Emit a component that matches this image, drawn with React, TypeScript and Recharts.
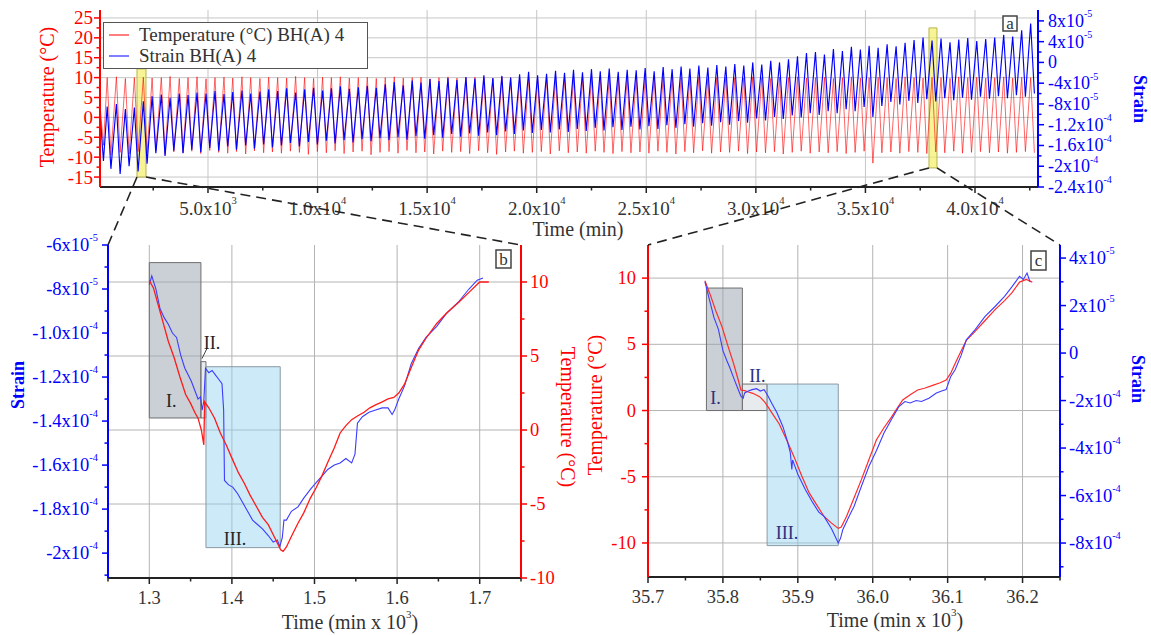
import {
  LineChart, Line, XAxis, YAxis, CartesianGrid, ReferenceArea, Legend
} from 'recharts';

const SERIF = '"Liberation Serif", "Times New Roman", serif';
const RED = '#ff0000';
const BLUE = '#0000ff';
const INK = '#333333';

// ---------- panel a: whole record (strain in units of 1e-5) ----------
// [peak time, trough time] per daily cycle, minutes
const cycleTimes = [
  [60, 230], [400, 570], [820, 990], [1230, 1400], [1640, 1810],
  [2050, 2220], [2450, 2620], [2870, 3040], [3270, 3440], [3690, 3860],
  [4090, 4260], [4500, 4670], [4910, 5080], [5320, 5490], [5730, 5900],
  [6130, 6300], [6550, 6720], [6950, 7120], [7370, 7540], [7770, 7940],
  [8180, 8350], [8590, 8760], [9000, 9170], [9410, 9580], [9820, 9990],
  [10230, 10400], [10630, 10800], [11040, 11210], [11450, 11620], [11860, 12030],
  [12270, 12440], [12680, 12850], [13090, 13260], [13500, 13670], [13910, 14080],
  [14320, 14490], [14720, 14890], [15130, 15300], [15540, 15710], [15950, 16120],
  [16360, 16530], [16770, 16940], [17180, 17350], [17590, 17760], [18000, 18170],
  [18410, 18580], [18810, 18980], [19220, 19390], [19630, 19800], [20040, 20210],
  [20450, 20620], [20860, 21030], [21270, 21440], [21680, 21850], [22090, 22260],
  [22500, 22670], [22900, 23070], [23310, 23480], [23720, 23890], [24130, 24300],
  [24540, 24710], [24950, 25120], [25360, 25530], [25770, 25940], [26180, 26350],
  [26590, 26760], [26990, 27160], [27400, 27570], [27810, 27980], [28220, 28390],
  [28630, 28800], [29040, 29210], [29450, 29620], [29860, 30030], [30270, 30440],
  [30680, 30850], [31080, 31250], [31490, 31660], [31900, 32070], [32310, 32480],
  [32720, 32890], [33130, 33300], [33540, 33710], [33950, 34120], [34360, 34530],
  [34770, 34940], [35170, 35340], [35580, 35750], [35990, 36160], [36400, 36570],
  [36810, 36980], [37220, 37390], [37630, 37800], [38040, 38210], [38450, 38620],
  [38860, 39030], [39260, 39430], [39670, 39840], [40080, 40250], [40490, 40660],
  [40900, 41070], [41310, 41480], [41720, 41890], [42130, 42300], [42540, 42710],
];

// [peak, trough] temperature, °C
const tempCycles = [
  [4, -7], [10, -9.5], [10.2, -8.8], [9.8, -9.2], [10, -8.6],
  [10.1, -9], [9.9, -8.4], [10, -9.3], [10.3, -8.7], [9.8, -8.9],
  [10, -8.5], [10.2, -9.1], [9.7, -8.3], [10, -8.8], [10.1, -9],
  [9.9, -8.6], [10.2, -9.2], [10, -8.4], [9.8, -8.9], [10.1, -8.7],
  [10, -9], [9.9, -8.5], [10.3, -8.8], [10, -9.3], [9.8, -8.6],
  [10.1, -8.9], [10, -8.4], [10.2, -9.1], [9.9, -8.7], [10, -8.5],
  [10.1, -9.4], [9.8, -8.8], [10, -8.6], [10.2, -9], [9.9, -8.3],
  [10, -8.9], [10.1, -8.7], [9.7, -9.2], [10, -8.5], [10.2, -8.8],
  [9.9, -8.6], [10, -9.1], [10.1, -8.4], [10, -8.9], [9.8, -9.3],
  [10.2, -8.7], [10, -8.5], [9.9, -9], [10.1, -8.8], [10, -8.6],
  [10.2, -9.2], [9.9, -8.4], [10, -8.9], [10.1, -8.7], [9.8, -9],
  [10, -8.5], [10.2, -8.8], [10, -9.1], [9.9, -8.6], [10.1, -8.9],
  [10, -8.7], [9.8, -9], [10.2, -8.5], [10, -8.8], [10.1, -9.2],
  [9.9, -8.6], [10, -8.9], [10.2, -8.4], [9.8, -9], [10, -8.7],
  [10.1, -8.8], [10, -8.5], [9.9, -9.1], [10.2, -8.7], [10, -8.9],
  [9.8, -8.6], [10.1, -9.2], [10, -8.8], [10.2, -8.5], [9.9, -9],
  [10, -8.7], [10.1, -8.9], [9.8, -8.6], [10, -9.1], [10.2, -8.8],
  [9.9, -8.5], [10, -11.5], [10.1, -8.9], [10, -8.7], [9.8, -9],
  [10.2, -8.6], [10, -8.8], [9.9, -9.1], [10.1, -8.7], [10, -8.9],
  [9.8, -8.5], [10.2, -9], [10, -8.8], [10.1, -8.6], [9.9, -8.9],
  [10, -8.7], [10.2, -9], [9.9, -8.8], [10.1, -8.6], [10, -8.9],
];

// [peak, trough] strain, x1e-5
const strainCycles = [
  [-9, -19], [-8.5, -20.5], [-8, -21.5], [-9, -20], [-8.7, -21],
  [-7.5, -19.5], [-6.5, -17.5], [-6.2, -18], [-6.8, -17], [-6, -17.5],
  [-6.3, -16.8], [-5.8, -17.3], [-6, -16.5], [-5.5, -17], [-6.1, -16.2],
  [-5.7, -16.8], [-5.4, -16], [-6, -16.6], [-5.6, -15.8], [-5.2, -16.4],
  [-5.5, -16], [-5, -15.5], [-5.8, -16.2], [-5.2, -15.3], [-4.9, -15.8],
  [-5.4, -15.1], [-5, -15.6], [-4.6, -15], [-5.1, -15.4], [-4.8, -14.8],
  [-4.5, -15.2], [-4.9, -14.6], [-4.2, -15], [-3.8, -14.4], [-4.4, -14.9],
  [-3.5, -14.2], [-3.9, -14.7], [-3.2, -14], [-3.6, -14.5], [-3, -13.8],
  [-3.4, -14.3], [-2.8, -13.7], [-3.1, -14.1], [-2.5, -13.5], [-3, -14],
  [-2.6, -13.3], [-2.9, -13.8], [-2.3, -13.1], [-1.8, -13.6], [-2.5, -13],
  [-2.2, -13.5], [-1.6, -12.9], [-2, -13.4], [-1.4, -12.8], [-1.9, -13.2],
  [-1.3, -12.6], [-1.7, -13.1], [-1.2, -12.5], [-1.8, -13], [-1.4, -12.4],
  [-1.5, -12.9], [-1.1, -12.3], [-1.7, -12.8], [-0.9, -12.1], [-1.3, -12.6],
  [-0.8, -11.9], [-1.2, -12.4], [-0.6, -11.7], [-1, -12.2], [-0.5, -11.5],
  [-0.8, -12], [-0.3, -11.3], [-0.6, -11.6], [0, -10.8], [-0.4, -11.2],
  [0.3, -10.5], [0, -10.9], [0.6, -10.2], [1.2, -10.6], [1.8, -9.8],
  [2, -10.1], [1.5, -9.4], [2.6, -9.8], [2.2, -9], [3, -9.4],
  [2.5, -8.6], [3.2, -10.5], [2.8, -8.4], [3.5, -7.6], [3.1, -8.1],
  [3.8, -7.4], [4.3, -7.8], [4.8, -7.1], [4.2, -7.5], [4.6, -6.9],
  [3.9, -7.3], [4.4, -6.8], [4.7, -7.2], [4.1, -6.6], [4.5, -7],
  [4.8, -6.5], [5.3, -6.9], [5, -6.3], [6.2, -6.6], [7.5, -6],
];

// ---------- panel b: one cycle near 1.3-1.7 x10^3 min ----------
const bTemperature = [
  [1.300, 10.1], [1.305, 9.6], [1.312, 8.2], [1.318, 7.0], [1.323, 6.0],
  [1.330, 4.9], [1.337, 3.6], [1.344, 2.4], [1.350, 1.8], [1.355, 1.2],
  [1.359, 0.8], [1.363, 0.0], [1.366, -1.0], [1.367, 1.9], [1.372, 1.5],
  [1.379, 0.8], [1.386, -0.2], [1.393, -1.0], [1.400, -1.9], [1.408, -2.9],
  [1.415, -3.6], [1.422, -4.4], [1.430, -5.2], [1.437, -5.9], [1.444, -6.4],
  [1.452, -7.3], [1.459, -8.1], [1.462, -8.2], [1.466, -7.9], [1.472, -7.2],
  [1.480, -6.3], [1.487, -5.6], [1.495, -4.6], [1.502, -3.9], [1.509, -3.1],
  [1.516, -2.2], [1.524, -1.2], [1.531, -0.2], [1.538, 0.3], [1.545, 0.7],
  [1.552, 0.95], [1.560, 1.2], [1.567, 1.5], [1.574, 1.7], [1.582, 1.9],
  [1.589, 2.1], [1.596, 2.2], [1.602, 2.5], [1.609, 3.1], [1.617, 4.2],
  [1.626, 5.4], [1.635, 6.2], [1.648, 7.2], [1.660, 7.9], [1.674, 8.6],
  [1.687, 9.3], [1.700, 10.0], [1.711, 10.0],
];
const bStrain = [
  [1.300, -7.8], [1.303, -7.4], [1.308, -8.0], [1.313, -8.9], [1.318, -9.3],
  [1.323, -9.6], [1.328, -10.0], [1.333, -10.2], [1.338, -11.0], [1.343, -11.6],
  [1.347, -11.9], [1.351, -12.2], [1.355, -12.6], [1.359, -13.0], [1.362, -12.9],
  [1.364, -13.5], [1.366, -13.1], [1.368, -11.6], [1.372, -11.8], [1.376, -11.7],
  [1.380, -11.9], [1.384, -12.1], [1.388, -12.3], [1.390, -13.5], [1.391, -16.7],
  [1.396, -16.9], [1.401, -17.0], [1.407, -17.3], [1.413, -17.7], [1.419, -18.1],
  [1.425, -18.5], [1.431, -18.7], [1.437, -18.9], [1.444, -19.2], [1.450, -19.5],
  [1.455, -19.4], [1.458, -19.7], [1.461, -19.3], [1.463, -18.5], [1.466, -18.5],
  [1.472, -18.1], [1.480, -17.9], [1.487, -17.5], [1.495, -17.1], [1.502, -16.8],
  [1.509, -16.5], [1.516, -16.2], [1.524, -16.0], [1.531, -15.9], [1.538, -15.7],
  [1.545, -15.9], [1.549, -15.5], [1.552, -14.1], [1.558, -13.8], [1.566, -13.6],
  [1.574, -13.5], [1.582, -13.4], [1.589, -13.4], [1.594, -13.7], [1.597, -13.5],
  [1.602, -13.0], [1.609, -12.4], [1.617, -11.4], [1.626, -10.7], [1.635, -10.2],
  [1.648, -9.7], [1.660, -9.1], [1.674, -8.6], [1.687, -8.0], [1.697, -7.6],
  [1.704, -7.5],
];

// ---------- panel c: one cycle near 35.8-36.2 x10^3 min ----------
const cTemperature = [
  [35.776, 9.8], [35.780, 9.2], [35.784, 8.6], [35.790, 7.6], [35.799, 6.3],
  [35.806, 5.0], [35.814, 3.6], [35.820, 2.4], [35.824, 1.55], [35.829, 1.5],
  [35.834, 1.4], [35.840, 1.3], [35.849, 1.05], [35.855, 0.7], [35.860, 0.3],
  [35.868, -0.4], [35.875, -1.0], [35.885, -2.2], [35.895, -3.5], [35.905, -4.9],
  [35.915, -6.2], [35.925, -7.1], [35.935, -8.0], [35.945, -8.5], [35.954, -8.9],
  [35.958, -8.8], [35.965, -8.0], [35.975, -6.6], [35.985, -5.2], [35.995, -3.7],
  [36.005, -2.2], [36.015, -1.3], [36.025, -0.5], [36.033, 0.2], [36.040, 0.8],
  [36.050, 1.2], [36.060, 1.55], [36.070, 1.7], [36.080, 1.9], [36.090, 2.1],
  [36.098, 2.3], [36.104, 2.8], [36.110, 3.55], [36.118, 4.5], [36.125, 5.3],
  [36.137, 6.0], [36.150, 6.8], [36.163, 7.6], [36.176, 8.3], [36.186, 8.9],
  [36.196, 9.7], [36.205, 9.9], [36.213, 9.7],
];
const cStrain = [
  [35.776, 3.0], [35.782, 2.25], [35.788, 1.5], [35.794, 1.0], [35.800, 0.1],
  [35.805, -0.3], [35.809, -0.6], [35.815, -1.1], [35.820, -1.5], [35.824, -1.82],
  [35.827, -1.9], [35.829, -1.68], [35.834, -1.6], [35.839, -1.54], [35.845, -1.5],
  [35.850, -1.6], [35.855, -1.54], [35.860, -1.8], [35.865, -2.1], [35.872, -2.5],
  [35.880, -3.09], [35.886, -3.7], [35.890, -4.2], [35.892, -4.9], [35.893, -4.5],
  [35.900, -5.1], [35.910, -5.75], [35.920, -6.3], [35.928, -6.7], [35.935, -6.88],
  [35.945, -7.4], [35.954, -8.0], [35.957, -7.8], [35.960, -7.44], [35.968, -6.9],
  [35.975, -6.46], [35.985, -5.6], [35.995, -4.77], [36.005, -4.1], [36.015, -3.37],
  [36.025, -2.8], [36.035, -2.25], [36.043, -2.04], [36.050, -2.1], [36.058, -2.0],
  [36.065, -2.04], [36.075, -1.9], [36.085, -1.68], [36.092, -1.6], [36.098, -1.54],
  [36.104, -1.0], [36.110, -0.7], [36.118, -0.1], [36.125, 0.56], [36.137, 1.0],
  [36.150, 1.54], [36.163, 1.95], [36.176, 2.39], [36.186, 2.8], [36.196, 3.23],
  [36.201, 3.1], [36.206, 3.37], [36.210, 3.0],
];

// ---------- ticks ----------
const timeTicksA = [5000, 10000, 15000, 20000, 25000, 30000, 35000, 40000];
const timeLabelsA = [['5.0x10', '3'], ['1.0x10', '4'], ['1.5x10', '4'], ['2.0x10', '4'], ['2.5x10', '4'], ['3.0x10', '4'], ['3.5x10', '4'], ['4.0x10', '4']];
const timeMinorA = [2500, 7500, 12500, 17500, 22500, 27500, 32500, 37500, 42500];
const tempTicksA = [-15, -10, -5, 0, 5, 10, 15, 20, 25];
const tempMinorA = [-12.5, -7.5, -2.5, 2.5, 7.5, 12.5, 17.5, 22.5];
const strainTicksA = [-24, -20, -16, -12, -8, -4, 0, 4, 8];
const strainLabelsA = [['-2.4x10', '-4'], ['-2x10', '-4'], ['-1.6x10', '-4'], ['-1.2x10', '-4'], ['-8x10', '-5'], ['-4x10', '-5'], ['0', ''], ['4x10', '-5'], ['8x10', '-5']];
const strainMinorA = [-22, -18, -14, -10, -6, -2, 2, 6];

const timeTicksB = [1.3, 1.4, 1.5, 1.6, 1.7];
const timeLabelsB = [['1.3'], ['1.4'], ['1.5'], ['1.6'], ['1.7']];
const timeMinorB = [1.25, 1.35, 1.45, 1.55, 1.65, 1.75];
const strainTicksB = [-20, -18, -16, -14, -12, -10, -8, -6];
const strainLabelsB = [['-2x10', '-4'], ['-1.8x10', '-4'], ['-1.6x10', '-4'], ['-1.4x10', '-4'], ['-1.2x10', '-4'], ['-1.0x10', '-4'], ['-8x10', '-5'], ['-6x10', '-5']];
const strainMinorB = [-21, -19, -17, -15, -13, -11, -9, -7];
const tempTicksB = [-10, -5, 0, 5, 10];
const tempMinorB = [-7.5, -2.5, 2.5, 7.5];

const timeTicksC = [35.7, 35.8, 35.9, 36.0, 36.1, 36.2];
const timeLabelsC = [['35.7'], ['35.8'], ['35.9'], ['36.0'], ['36.1'], ['36.2']];
const timeMinorC = [35.75, 35.85, 35.95, 36.05, 36.15, 36.25];
const tempTicksC = [-10, -5, 0, 5, 10];
const tempMinorC = [-7.5, -2.5, 2.5, 7.5];
const strainTicksC = [-8, -6, -4, -2, 0, 2, 4];
const strainLabelsC = [['-8x10', '-4'], ['-6x10', '-4'], ['-4x10', '-4'], ['-2x10', '-4'], ['0', ''], ['2x10', '-5'], ['4x10', '-5']];
const strainMinorC = [-9, -7, -5, -3, -1, 1, 3];

// ---------- layout ----------
const A = { left: 100, right: 1038, top: 10, bottom: 187, time: [72, 42875], temp: [-17.5, 27], strain: [-24, 10.1] };
const B = { left: 108, right: 521, top: 245, bottom: 578, time: [1.25, 1.75], strain: [-21.13, -6], temp: [-10, 12.5] };
const C = { left: 648, right: 1060, top: 245, bottom: 577, time: [35.7, 36.25], temp: [-12.57, 12.5], strain: [-9.43, 4.55] };
const yellowA = { t: [1760, 2171], temp: [-15, 12.2] };
const yellowB = { t: [37900, 38265], temp: [-12.7, 22.5] };
const legendOrder = ['temp', 'strain'];

const overviewRows = cycleTimes.flatMap(([tp, tt], i) => [
  { t: tp, temp: tempCycles[i][0], strain: strainCycles[i][0] },
  { t: tt, temp: tempCycles[i][1], strain: strainCycles[i][1] },
]);
const toRows = (pairs: number[][]) => pairs.map(([t, v]) => ({ t, v }));

// ---------- tick renderers ----------
const findParts = (major: number[], labels: string[][] | null, v: number) => {
  const i = major.findIndex((m) => Math.abs(m - v) < 1e-6);
  if (i < 0) return null;
  return labels ? labels[i] : [String(major[i])];
};

const serifStyle = { fontFamily: SERIF };

const TickText = ({ x, y, parts, anchor, size, color }: any) => (
  <text x={x} y={y} textAnchor={anchor} dominantBaseline="central" style={serifStyle} fontSize={size} fill={color}>
    {parts[0]}
    {parts[1] ? <tspan dy={-size * 0.42} fontSize={size * 0.56}>{parts[1]}</tspan> : null}
  </text>
);

const bottomTick = (major: number[], labels: string[][], size: number, gap: number) => (p: any) => {
  const parts = findParts(major, labels, p.payload.value);
  return (
    <g>
      <line x1={p.x} x2={p.x} y1={p.y} y2={p.y + (parts ? 6 : 3.5)} stroke="#222" strokeWidth={1.5} />
      {parts && <TickText x={p.x} y={p.y + gap} parts={parts} anchor="middle" size={size} color={INK} />}
    </g>
  );
};

const topTick = (major: number[]) => (p: any) => {
  const isMajor = findParts(major, null, p.payload.value);
  return <line x1={p.x} x2={p.x} y1={p.y} y2={p.y + (isMajor ? 6 : 3.5)} stroke="#222" strokeWidth={1.5} />;
};

const leftTick = (major: number[], labels: string[][] | null, color: string, size: number, gap: number) => (p: any) => {
  const parts = findParts(major, labels, p.payload.value);
  return (
    <g>
      <line x1={p.x} x2={p.x - (parts ? 6 : 3.5)} y1={p.y} y2={p.y} stroke={color} strokeWidth={1.5} />
      {parts && <TickText x={p.x - gap} y={p.y} parts={parts} anchor="end" size={size} color={color} />}
    </g>
  );
};

const rightTick = (major: number[], labels: string[][] | null, color: string, size: number, gap: number) => (p: any) => {
  const parts = findParts(major, labels, p.payload.value);
  return (
    <g>
      <line x1={p.x} x2={p.x + (parts ? 6 : 3.5)} y1={p.y} y2={p.y} stroke={color} strokeWidth={1.5} />
      {parts && <TickText x={p.x + gap} y={p.y} parts={parts} anchor="start" size={size} color={color} />}
    </g>
  );
};

const AreaLabel = (props: any) => {
  const { viewBox, text, dx, dy, color, leader } = props;
  if (!viewBox) return null;
  const { x, y } = viewBox;
  return (
    <g>
      {leader && (
        <line x1={x + leader[0]} y1={y + leader[1]} x2={x + leader[2]} y2={y + leader[3]} stroke="#444" strokeWidth={1} />
      )}
      <text x={x + dx} y={y + dy} textAnchor="middle" dominantBaseline="central" style={serifStyle} fontSize={18} fill={color}>
        {text}
      </text>
    </g>
  );
};

const TopLegend = ({ payload }: any) => {
  const items = [...(payload || [])].sort(
    (a: any, b: any) => legendOrder.indexOf(a.dataKey) - legendOrder.indexOf(b.dataKey)
  );
  return (
    <div style={{
      width: 265, height: 47, boxSizing: 'border-box', border: '1.5px solid #555', background: '#fff',
      fontFamily: SERIF, fontSize: 19, color: INK, padding: '1px 0 0 3px', lineHeight: '21px',
    }}>
      {items.map((item: any) => (
        <div key={item.value} style={{ display: 'flex', alignItems: 'center', height: 21 }}>
          <svg width={24} height={20}>
            <line x1={2} x2={22} y1={10} y2={10} stroke={item.color} strokeWidth={1} />
          </svg>
          <span style={{ marginLeft: 8 }}>{item.value}</span>
        </div>
      ))}
    </div>
  );
};

const axisBlack = { stroke: '#222', strokeWidth: 2 };

// ---------- panel a ----------
const OverviewChart = () => (
  <LineChart width={1151} height={240} data={overviewRows} margin={{ top: A.top, right: 0, bottom: 0, left: 0 }}>
    <CartesianGrid yAxisId="temp" stroke="#c6c6c6" horizontalValues={tempTicksA} verticalValues={timeTicksA} />
    <XAxis dataKey="t" type="number" domain={A.time} allowDataOverflow ticks={[...timeTicksA, ...timeMinorA]}
      interval={0} tickSize={0} tickMargin={0} tickLine={false} axisLine={axisBlack}
      tick={bottomTick(timeTicksA, timeLabelsA, 19, 21)} height={240 - A.bottom} />
    <XAxis xAxisId="top" orientation="top" type="number" domain={A.time} allowDataOverflow
      ticks={[...timeTicksA, ...timeMinorA]} interval={0} tickSize={0} tickMargin={0} tickLine={false}
      axisLine={axisBlack} tick={topTick(timeTicksA)} height={0} />
    <YAxis yAxisId="temp" type="number" domain={A.temp} allowDataOverflow ticks={[...tempTicksA, ...tempMinorA]}
      interval={0} tickSize={0} tickMargin={0} tickLine={false} axisLine={{ stroke: RED, strokeWidth: 2 }}
      tick={leftTick(tempTicksA, null, RED, 19, 7)} width={A.left} />
    <YAxis yAxisId="strain" orientation="right" type="number" domain={A.strain} allowDataOverflow
      ticks={[...strainTicksA, ...strainMinorA]} interval={0} tickSize={0} tickMargin={0} tickLine={false}
      axisLine={{ stroke: BLUE, strokeWidth: 2 }} tick={rightTick(strainTicksA, strainLabelsA, BLUE, 18, 10)}
      width={1151 - A.right} />
    <Line yAxisId="temp" dataKey="temp" name="Temperature (°C) BH(A) 4" type="linear" stroke={RED}
      strokeWidth={1} strokeOpacity={0.6} dot={false} isAnimationActive={false} />
    <Line yAxisId="strain" dataKey="strain" name="Strain BH(A) 4" type="linear" stroke={BLUE}
      strokeWidth={1.15} dot={false} isAnimationActive={false} />
    <ReferenceArea yAxisId="temp" x1={yellowA.t[0]} x2={yellowA.t[1]} y1={yellowA.temp[0]} y2={yellowA.temp[1]}
      fill="#f4f06a" fillOpacity={0.7} stroke="#b9b34c" strokeWidth={1} />
    <ReferenceArea yAxisId="temp" x1={yellowB.t[0]} x2={yellowB.t[1]} y1={yellowB.temp[0]} y2={yellowB.temp[1]}
      fill="#f4f06a" fillOpacity={0.7} stroke="#b9b34c" strokeWidth={1} />
    <Legend layout="vertical" align="center" verticalAlign="middle" content={TopLegend}
      wrapperStyle={{ left: 103, top: 22, width: 265, height: 47 }} />
  </LineChart>
);

const boxI = { fill: '#95a2ac', fillOpacity: 0.5, stroke: '#707070', strokeWidth: 1 };
const boxII = { fill: '#c9d3da', fillOpacity: 0.45, stroke: '#707070', strokeWidth: 1 };
const boxIII = { fill: '#8fd0f0', fillOpacity: 0.45, stroke: '#8c9aa4', strokeWidth: 1 };

// ---------- panel b ----------
const PanelB = () => (
  <LineChart width={580} height={434} margin={{ top: B.top - 200, right: 0, bottom: 0, left: 0 }}>
    <CartesianGrid yAxisId="temp" stroke="#b4b4b4" horizontalValues={[-5, 0, 5, 10]} verticalValues={timeTicksB} />
    <XAxis dataKey="t" type="number" domain={B.time} allowDataOverflow ticks={[...timeTicksB, ...timeMinorB]}
      interval={0} tickSize={0} tickMargin={0} tickLine={false} axisLine={axisBlack}
      tick={bottomTick(timeTicksB, timeLabelsB, 18.5, 20)} height={634 - B.bottom} />
    <XAxis xAxisId="top" orientation="top" type="number" domain={B.time} allowDataOverflow
      ticks={[...timeTicksB, ...timeMinorB]} interval={0} tickSize={0} tickMargin={0} tickLine={false}
      axisLine={axisBlack} tick={topTick(timeTicksB)} height={0} />
    <YAxis yAxisId="strain" type="number" domain={B.strain} allowDataOverflow ticks={[...strainTicksB, ...strainMinorB]}
      interval={0} tickSize={0} tickMargin={0} tickLine={false} axisLine={{ stroke: BLUE, strokeWidth: 2 }}
      tick={leftTick(strainTicksB, strainLabelsB, BLUE, 18.5, 10)} width={B.left} />
    <YAxis yAxisId="temp" orientation="right" type="number" domain={B.temp} allowDataOverflow
      ticks={[...tempTicksB, ...tempMinorB]} interval={0} tickSize={0} tickMargin={0} tickLine={false}
      axisLine={{ stroke: RED, strokeWidth: 2 }} tick={rightTick(tempTicksB, null, RED, 18.5, 9)} width={580 - B.right} />
    <ReferenceArea yAxisId="strain" x1={1.300} x2={1.3625} y1={-13.86} y2={-6.8} {...boxI}
      label={<AreaLabel text="I." dx={22} dy={138} color="#222" />} />
    <ReferenceArea yAxisId="strain" x1={1.3625} x2={1.3686} y1={-13.86} y2={-11.3} {...boxII}
      label={<AreaLabel text="II." dx={11} dy={-19} color="#222" leader={[1, -3, 6, -13]} />} />
    <ReferenceArea yAxisId="strain" x1={1.3686} x2={1.4585} y1={-19.75} y2={-11.53} {...boxIII}
      label={<AreaLabel text="III." dx={29} dy={172} color="#222" />} />
    <Line yAxisId="strain" data={toRows(bStrain)} dataKey="v" name="Strain" type="linear" stroke="#3c3cff"
      strokeWidth={1.1} dot={false} isAnimationActive={false} />
    <Line yAxisId="temp" data={toRows(bTemperature)} dataKey="v" name="Temperature" type="linear" stroke="#ff1a1a"
      strokeWidth={1.3} dot={false} isAnimationActive={false} />
  </LineChart>
);

// ---------- panel c ----------
const PanelC = () => (
  <LineChart width={571} height={434} margin={{ top: C.top - 200, right: 0, bottom: 0, left: 0 }}>
    <CartesianGrid yAxisId="temp" stroke="#b4b4b4" horizontalValues={tempTicksC} verticalValues={timeTicksC.slice(1)} />
    <XAxis dataKey="t" type="number" domain={C.time} allowDataOverflow ticks={[...timeTicksC, ...timeMinorC]}
      interval={0} tickSize={0} tickMargin={0} tickLine={false} axisLine={axisBlack}
      tick={bottomTick(timeTicksC, timeLabelsC, 18.5, 20)} height={634 - C.bottom} />
    <XAxis xAxisId="top" orientation="top" type="number" domain={C.time} allowDataOverflow
      ticks={[...timeTicksC, ...timeMinorC]} interval={0} tickSize={0} tickMargin={0} tickLine={false}
      axisLine={axisBlack} tick={topTick(timeTicksC)} height={0} />
    <YAxis yAxisId="temp" type="number" domain={C.temp} allowDataOverflow ticks={[...tempTicksC, ...tempMinorC]}
      interval={0} tickSize={0} tickMargin={0} tickLine={false} axisLine={{ stroke: RED, strokeWidth: 2 }}
      tick={leftTick(tempTicksC, null, RED, 18.5, 12)} width={C.left - 580} />
    <YAxis yAxisId="strain" orientation="right" type="number" domain={C.strain} allowDataOverflow
      ticks={[...strainTicksC, ...strainMinorC]} interval={0} tickSize={0} tickMargin={0} tickLine={false}
      axisLine={{ stroke: BLUE, strokeWidth: 2 }} tick={rightTick(strainTicksC, strainLabelsC, BLUE, 18.5, 9)}
      width={1151 - C.right} />
    <ReferenceArea yAxisId="temp" x1={35.778} x2={35.826} y1={0} y2={9.25} {...boxI}
      label={<AreaLabel text="I." dx={9} dy={110} color="#2e2e7a" />} />
    <ReferenceArea yAxisId="temp" x1={35.826} x2={35.859} y1={0} y2={2.0} {...boxII}
      label={<AreaLabel text="II." dx={15} dy={-8} color="#2e2e7a" />} />
    <ReferenceArea yAxisId="temp" x1={35.859} x2={35.954} y1={-10.2} y2={2.0} {...boxIII}
      label={<AreaLabel text="III." dx={20} dy={149} color="#2e2e7a" />} />
    <Line yAxisId="temp" data={toRows(cTemperature)} dataKey="v" name="Temperature" type="linear" stroke="#ff2a2a"
      strokeWidth={1.2} dot={false} isAnimationActive={false} />
    <Line yAxisId="strain" data={toRows(cStrain)} dataKey="v" name="Strain" type="linear" stroke="#3c3cff"
      strokeWidth={1.1} dot={false} isAnimationActive={false} />
  </LineChart>
);

// ---------- annotations ----------
const ax = (t: number) => A.left + ((t - A.time[0]) / (A.time[1] - A.time[0])) * (A.right - A.left);
const ay = (v: number) => A.top + ((A.temp[1] - v) / (A.temp[1] - A.temp[0])) * (A.bottom - A.top);

const Title = ({ x, y, rotate = 0, color, size = 20, bold = false, children }: any) => (
  <text x={x} y={y} transform={rotate ? `rotate(${rotate} ${x} ${y})` : undefined} textAnchor="middle"
    dominantBaseline="central" style={serifStyle} fontSize={size} fontWeight={bold ? 'bold' : 'normal'} fill={color}>
    {children}
  </text>
);

const TimeX3 = ({ x, y }: any) => (
  <text x={x} y={y} textAnchor="middle" dominantBaseline="central" style={serifStyle} fontSize={20} fill={INK}>
    Time (min x 10<tspan dy={-8} fontSize={11}>3</tspan><tspan dy={8}>)</tspan>
  </text>
);

const PanelTag = ({ x, y, w, h, text }: any) => (
  <g>
    <rect x={x} y={y} width={w} height={h} fill="#fff" stroke="#444" strokeWidth={1.5} />
    <text x={x + w / 2} y={y + h / 2} textAnchor="middle" dominantBaseline="central" style={serifStyle}
      fontSize={17} fill={INK}>{text}</text>
  </g>
);

const Annotations = () => {
  const dash = { stroke: '#222', strokeWidth: 1.6, strokeDasharray: '10 6' };
  return (
    <svg width={1151} height={635} style={{ position: 'absolute', left: 0, top: 0, pointerEvents: 'none' }}>
      <line x1={ax(yellowA.t[0])} y1={ay(yellowA.temp[0])} x2={B.left} y2={B.top} {...dash} />
      <line x1={ax(yellowA.t[1])} y1={ay(yellowA.temp[0])} x2={B.right} y2={B.top} {...dash} />
      <line x1={ax(yellowB.t[0])} y1={ay(yellowB.temp[0])} x2={C.left} y2={C.top} {...dash} />
      <line x1={ax(yellowB.t[1])} y1={ay(yellowB.temp[0])} x2={C.right} y2={C.top} {...dash} />

      <Title x={47} y={97} rotate={-90} color={RED}>Temperature (°C)</Title>
      <Title x={1140} y={99} rotate={90} color={BLUE} size={18} bold>Strain</Title>
      <Title x={578} y={229} color={INK}>Time (min)</Title>

      <Title x={18} y={385} rotate={-90} color={BLUE} size={18} bold>Strain</Title>
      <Title x={568} y={417} rotate={90} color={RED}>Temperature (°C)</Title>
      <TimeX3 x={350} y={622} />

      <Title x={595} y={405} rotate={-90} color={RED}>Temperature (°C)</Title>
      <Title x={1138} y={379} rotate={90} color={BLUE} size={18} bold>Strain</Title>
      <TimeX3 x={895} y={620} />

      <PanelTag x={1003} y={16} w={14} h={15} text="a" />
      <PanelTag x={496} y={250} w={15} h={18} text="b" />
      <PanelTag x={1031} y={251} w={15} h={19} text="c" />
    </svg>
  );
};

export default function App() {
  return (
    <div style={{ position: 'absolute', left: 0, top: 0, width: 1151, height: 635, overflow: 'hidden', background: '#fff' }}>
      <div style={{ position: 'absolute', left: 0, top: 0 }}><OverviewChart /></div>
      <div style={{ position: 'absolute', left: 0, top: 200 }}><PanelB /></div>
      <div style={{ position: 'absolute', left: 580, top: 200 }}><PanelC /></div>
      <Annotations />
    </div>
  );
}
